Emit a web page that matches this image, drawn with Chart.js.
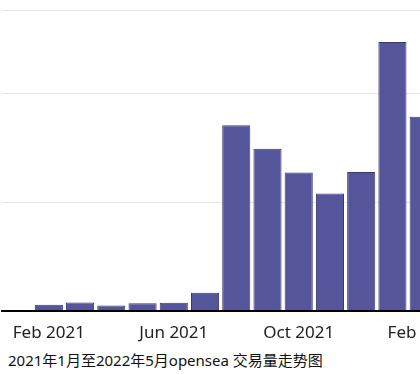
<!DOCTYPE html>
<html>
<head>
<meta charset="utf-8">
<script src="https://cdn.jsdelivr.net/npm/chart.js@4"></script>
<style>
  html, body { margin: 0; padding: 0; background: #fff; overflow: hidden; }
  #wrap { position: absolute; left: 0; top: 0; width: 533px; height: 347px; }
  #caption {
    position: absolute; left: 8px; top: 351px;
    font: 15px/18px "Noto Sans", "Noto Sans CJK SC", sans-serif;
    color: #111; white-space: nowrap;
  }
</style>
</head>
<body>
<div id="wrap"><canvas id="chart"></canvas></div>
<div id="caption"></div>
<script>
// months Jan 2021 .. May 2022
var months = ['Jan 2021', 'Feb 2021', 'Mar 2021', 'Apr 2021', 'May 2021', 'Jun 2021',
  'Jul 2021', 'Aug 2021', 'Sep 2021', 'Oct 2021', 'Nov 2021', 'Dec 2021',
  'Jan 2022', 'Feb 2022', 'Mar 2022', 'Apr 2022', 'May 2022']

// monthly volume, billion USD
var volume = [0.008, 0.106, 0.149, 0.094, 0.136, 0.144,
  0.33, 3.42, 2.99, 2.55, 2.16, 2.56,
  4.96, 3.58, 2.46, 2.6, 2.2]

var title = '2021年1月至2022年5月opensea 交易量走势图'

var FONT = '"Noto Sans", "Noto Sans CJK SC", sans-serif'

document.getElementById('caption').textContent = title

var ctx = document.getElementById('chart')
new Chart(ctx, {
  type: 'bar',
  data: {
    labels: months,
    datasets: [{
      label: 'volume',
      data: volume,
      backgroundColor: '#55559b',
      borderColor: '#3a3a72',
      borderWidth: 1,
      barPercentage: 0.9,
      categoryPercentage: 1
    }]
  },
  options: {
    responsive: true,
    maintainAspectRatio: false,
    animation: false,
    layout: {
      padding: { left: 2, right: 0, top: 10, bottom: 0 }
    },
    plugins: {
      legend: { display: false },
      tooltip: { enabled: false }
    },
    scales: {
      x: {
        grid: { display: false },
        border: { color: '#000', width: 2 },
        ticks: {
          autoSkip: false,
          maxRotation: 0,
          color: '#222',
          padding: 4,
          font: { family: FONT, size: 17 },
          // only every 4th month gets a label, starting at Feb 2021
          callback: function (val, i) {
            return i % 4 === 1 ? months[i] : ''
          }
        }
      },
      y: {
        min: 0,
        max: 5.55,
        ticks: { display: false, stepSize: 2 },
        grid: { color: '#e6e6e6', drawTicks: false },
        border: { display: false }
      }
    }
  }
})
</script>
</body>
</html>
